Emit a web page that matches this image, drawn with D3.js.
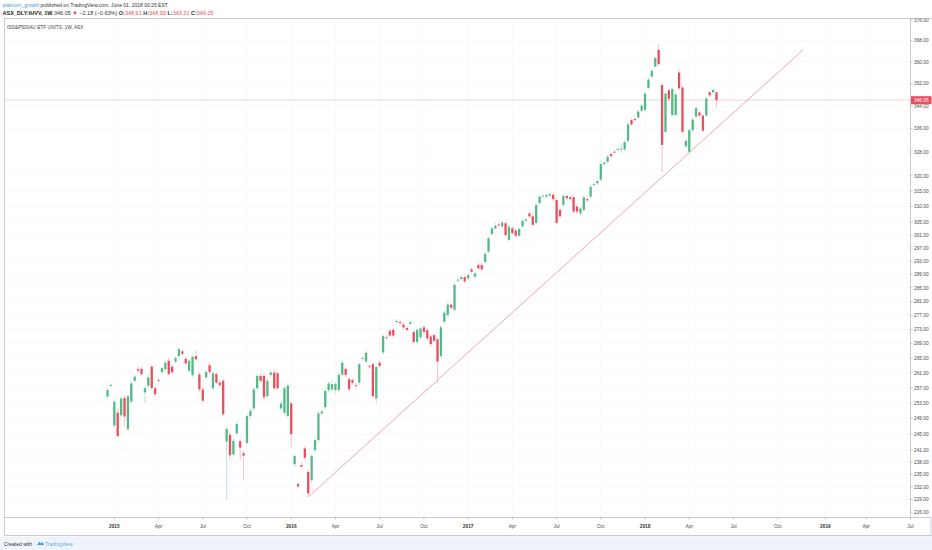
<!DOCTYPE html>
<html>

<head>
	<meta charset="utf-8">
	<script src="https://cdn.jsdelivr.net/npm/d3@7"></script>
	<style>
		body {
			margin: 0;
			background: #fff;
		}

		svg {
			display: block;
			font-family: "Liberation Sans", Arial, sans-serif;
		}

		.ylabel, .xlabel {
			font-size: 4.8px;
			fill: #4a4a4a;
		}

		.xlabel.year {
			font-weight: bold;
			fill: #333;
		}

		.frame {
			fill: none;
			stroke: #c9cbd1;
			stroke-width: 1;
		}
	</style>
</head>

<body>
	<svg></svg>
	<script>
		// weekly bars, first bar is the week of 22 Dec 2014
		var firstWeek = "2014-12-22";

		var opens = [
			254.7, 257.5, 247.2, 250.5, 249.8, 254.3, 246.3, 253.4, 258.9, 262.0,
			262.1, 255.8, 257.6, 262.7, 256.9, 259.1, 261.2, 262.0, 264.3, 262.7,
			264.1, 265.6, 266.9, 264.8, 261.6, 260.4, 265.6, 260.6, 256.6, 259.8,
			263.1, 256.9, 260.7, 258.4, 258.9, 243.1, 244.8, 239.9, 245.2, 243.2,
			240.2, 242.8, 249.6, 251.6, 256.9, 260.2, 260.2, 254.8, 260.5, 261.1,
			260.9, 251.6, 250.5, 249.7, 252.9, 237.5, 232.7, 237.3, 241.4, 235.6,
			233.6, 241.0, 243.5, 250.3, 251.9, 256.4, 256.6, 256.4, 256.4, 260.5,
			262.1, 259.3, 259.1, 257.7, 258.4, 264.8, 264.1, 262.8, 263.4, 254.2,
			263.8, 266.6, 270.8, 272.6, 272.9, 275.1, 275.1, 274.4, 273.4, 274.6,
			272.3, 269.5, 270.8, 273.6, 272.8, 271.0, 271.4, 270.2, 265.6, 275.2,
			277.1, 280.1, 278.6, 287.2, 287.6, 288.2, 287.8, 290.5, 288.3, 291.8,
			291.8, 292.8, 295.9, 301.3, 303.1, 304.3, 303.7, 304.7, 299.5, 303.1,
			302.4, 300.8, 303.7, 305.5, 307.8, 306.9, 304.8, 311.1, 313.3, 313.2,
			313.5, 313.8, 312.1, 308.9, 310.5, 313.4, 313.0, 313.0, 310.0, 307.8,
			308.9, 312.4, 313.2, 317.2, 317.6, 318.8, 323.9, 324.7, 327.3, 328.1,
			328.8, 329.0, 328.9, 331.8, 339.0, 339.4, 339.9, 342.3, 342.6, 350.5,
			354.6, 358.3, 364.5, 351.5, 334.9, 349.6, 340.8, 340.8, 356.1, 350.6,
			329.9, 328.1, 335.5, 340.2, 341.7, 340.6, 340.6, 348.9, 348.9, 348.91
		];
		var highs = [
			257.0, 258.2, 254.0, 251.5, 254.8, 255.0, 255.3, 258.8, 260.6, 262.6,
			262.8, 257.5, 260.5, 263.4, 257.4, 259.6, 262.9, 264.4, 265.0, 263.3,
			265.6, 268.1, 267.5, 265.4, 264.9, 266.0, 267.3, 261.2, 257.1, 261.9,
			263.7, 261.5, 261.3, 258.9, 259.4, 247.0, 245.5, 243.9, 248.2, 243.8,
			240.7, 250.2, 251.6, 257.2, 260.8, 260.8, 260.9, 259.5, 261.7, 261.7,
			261.5, 253.5, 257.5, 258.2, 253.5, 240.1, 233.2, 237.9, 242.0, 236.2,
			240.1, 244.1, 250.9, 251.4, 256.8, 258.8, 259.0, 258.6, 261.1, 264.4,
			262.7, 259.9, 259.6, 258.2, 264.0, 265.5, 267.1, 263.3, 264.0, 263.2,
			264.4, 271.7, 271.4, 273.2, 273.5, 276.0, 275.8, 275.0, 274.0, 275.7,
			272.9, 273.5, 273.9, 274.2, 273.4, 271.6, 272.0, 270.8, 274.2, 278.4,
			280.7, 280.7, 286.5, 288.0, 288.9, 288.8, 289.4, 291.1, 289.9, 292.4,
			292.4, 295.8, 300.6, 303.7, 304.9, 305.0, 305.5, 305.3, 304.2, 303.7,
			303.0, 303.5, 306.1, 306.5, 308.4, 307.5, 311.1, 313.8, 314.1, 314.3,
			314.6, 314.4, 312.7, 309.5, 314.0, 314.0, 313.6, 313.6, 310.6, 310.0,
			313.6, 313.0, 317.0, 317.9, 318.9, 324.5, 325.0, 327.0, 327.9, 328.7,
			329.6, 331.0, 332.0, 338.1, 339.6, 340.0, 342.6, 344.7, 349.0, 354.1,
			357.3, 362.1, 366.7, 352.3, 349.0, 350.2, 350.7, 348.7, 357.5, 351.2,
			332.4, 336.1, 339.8, 343.8, 342.3, 341.2, 347.3, 349.5, 350.3, 348.93
		];
		var lows = [
			254.2, 257.3, 246.5, 244.0, 249.0, 247.0, 245.8, 252.8, 258.4, 261.0,
			260.2, 253.0, 257.0, 256.4, 254.6, 258.5, 260.7, 261.4, 260.2, 260.6,
			263.5, 265.0, 265.7, 263.0, 261.0, 259.8, 264.2, 256.0, 253.0, 259.2,
			260.7, 256.3, 257.9, 257.2, 249.5, 228.9, 238.5, 239.3, 244.6, 238.5,
			233.6, 242.2, 249.0, 251.0, 256.3, 258.4, 253.9, 254.2, 259.9, 256.3,
			256.3, 251.0, 249.9, 249.1, 241.8, 236.9, 231.5, 236.3, 238.5, 229.6,
			233.0, 240.4, 243.0, 249.7, 251.3, 255.8, 256.0, 255.6, 255.8, 259.9,
			259.9, 256.0, 257.9, 257.0, 257.8, 264.3, 263.5, 262.1, 254.2, 252.9,
			262.3, 266.0, 270.1, 270.7, 270.7, 274.6, 274.2, 273.0, 272.4, 274.0,
			268.9, 268.9, 270.2, 271.7, 269.9, 268.3, 269.2, 258.2, 265.0, 274.6,
			276.5, 278.6, 278.0, 286.6, 287.0, 286.3, 287.2, 289.2, 287.7, 290.2,
			289.9, 292.2, 295.3, 300.7, 302.5, 303.4, 303.1, 300.4, 298.9, 301.0,
			300.2, 300.2, 303.1, 304.9, 306.3, 303.6, 304.2, 310.5, 312.8, 312.6,
			312.9, 311.8, 304.2, 306.3, 309.9, 312.1, 311.8, 307.8, 307.8, 307.2,
			308.3, 311.4, 312.6, 316.6, 317.0, 318.2, 323.3, 324.1, 326.0, 327.4,
			328.2, 327.6, 328.3, 331.2, 336.9, 338.4, 339.3, 341.7, 342.0, 349.9,
			354.0, 357.7, 358.6, 321.2, 334.3, 345.9, 340.2, 340.2, 349.7, 334.3,
			329.3, 327.3, 334.9, 339.6, 340.0, 334.7, 340.0, 347.2, 348.3, 343.31
		];
		var closes = [
			256.4, 257.8, 253.3, 244.5, 254.2, 249.5, 254.8, 258.2, 260.0, 261.6,
			260.7, 256.9, 259.8, 257.0, 255.3, 258.9, 262.3, 263.8, 260.7, 261.2,
			265.0, 267.5, 266.2, 263.6, 264.3, 265.4, 264.7, 256.6, 253.6, 261.3,
			261.3, 260.9, 258.4, 257.7, 250.1, 246.3, 239.7, 243.3, 247.6, 241.6,
			239.6, 249.6, 251.0, 256.6, 260.2, 258.9, 254.5, 258.9, 261.1, 256.9,
			256.9, 252.9, 256.9, 257.6, 245.0, 239.5, 232.1, 236.9, 239.1, 230.4,
			239.5, 243.5, 250.3, 250.8, 256.2, 258.2, 258.0, 258.0, 260.5, 263.8,
			260.5, 256.6, 258.4, 257.5, 263.4, 265.0, 266.5, 262.6, 254.8, 262.6,
			262.9, 271.1, 270.7, 271.3, 271.3, 275.4, 274.8, 273.6, 272.9, 275.1,
			269.5, 272.9, 273.3, 272.3, 270.5, 268.9, 269.8, 264.1, 273.6, 277.8,
			280.1, 279.2, 285.9, 287.4, 288.2, 286.9, 288.8, 289.8, 289.3, 290.8,
			290.5, 295.2, 300.0, 303.1, 303.9, 304.0, 304.9, 301.0, 303.6, 301.6,
			300.8, 302.9, 305.5, 305.9, 306.9, 304.2, 310.5, 313.2, 313.5, 313.7,
			314.0, 312.4, 304.8, 306.9, 313.4, 312.7, 312.4, 308.4, 308.4, 309.4,
			313.0, 312.0, 316.4, 317.3, 318.3, 323.9, 324.4, 326.4, 326.6, 328.0,
			329.0, 329.1, 331.4, 337.5, 337.5, 339.0, 342.0, 344.1, 348.4, 353.5,
			356.7, 361.5, 359.2, 330.4, 348.4, 346.5, 350.1, 348.1, 350.3, 334.9,
			331.8, 335.5, 339.2, 343.2, 340.6, 335.3, 346.7, 347.8, 349.7, 346.05
		];

		var priceTicks = [376, 368, 360, 352, 344, 336, 328, 320, 315, 310, 305, 301, 297, 293,
			289, 285, 281, 277, 273, 269, 265, 261, 257, 253, 249, 245, 241, 238, 235, 232, 229, 226];

		var timeTicks = [
			["2015-01-05", "2015"], ["2015-04-06", "Apr"], ["2015-07-06", "Jul"], ["2015-10-05", "Oct"],
			["2016-01-04", "2016"], ["2016-04-04", "Apr"], ["2016-07-04", "Jul"], ["2016-10-03", "Oct"],
			["2017-01-02", "2017"], ["2017-04-03", "Apr"], ["2017-07-03", "Jul"], ["2017-10-02", "Oct"],
			["2018-01-01", "2018"], ["2018-04-02", "Apr"], ["2018-07-02", "Jul"], ["2018-10-01", "Oct"],
			["2019-01-07", "2019"], ["2019-04-01", "Apr"], ["2019-07-01", "Jul"]
		];

		var trendLine = [["2016-02-08", 229.6], ["2018-11-23", 364.7]];
		var lastPrice = 346.05;

		var width = 932;
		var height = 550;
		var pane = { "left": 4.5, "right": 910.5, "top": 18.5, "bottom": 517.5 };
		var axisBottom = 535.5;
		var upColor = "#53b987", downColor = "#eb4d5c";

		var parse = d3.utcParse("%Y-%m-%d");
		var start = parse(firstWeek);
		var weeks = d3.utcMonday.range(start, d3.utcDay.offset(start, opens.length * 7));

		var bars = weeks.map(function (d, i) {
			return { date: d, o: opens[i], h: highs[i], l: lows[i], c: closes[i] };
		});

		var x = d3.scaleUtc()
			.domain([weeks[0], weeks[weeks.length - 1]])
			.range([107.5, 716.5]);
		var y = d3.scaleLog()
			.domain([224.76, 376.55])
			.range([pane.bottom, pane.top]);

		var svg = d3.select("svg")
			.attr("width", width)
			.attr("height", height);

		svg.append("rect")
			.attr("width", width).attr("height", height).attr("fill", "#fff");
		svg.append("rect")
			.attr("y", axisBottom + 1).attr("width", width).attr("height", height - axisBottom)
			.attr("fill", "#f0f3fa");

		svg.append("clipPath").attr("id", "paneClip")
			.append("rect")
			.attr("x", pane.left).attr("y", pane.top)
			.attr("width", pane.right - pane.left).attr("height", pane.bottom - pane.top);

		// grid, barely there
		var grid = svg.append("g").attr("clip-path", "url(#paneClip)");
		grid.selectAll(".vgrid")
			.data(timeTicks)
			.enter()
			.append("line")
			.attr("x1", d => x(parse(d[0]))).attr("x2", d => x(parse(d[0])))
			.attr("y1", pane.top).attr("y2", pane.bottom)
			.attr("stroke", "#f8f9fb");
		grid.selectAll(".hgrid")
			.data(priceTicks)
			.enter()
			.append("line")
			.attr("x1", pane.left).attr("x2", pane.right)
			.attr("y1", d => y(d)).attr("y2", d => y(d))
			.attr("stroke", "#f8f9fb");

		var plot = svg.append("g").attr("clip-path", "url(#paneClip)");

		// last price line
		plot.append("line")
			.attr("x1", pane.left).attr("x2", pane.right)
			.attr("y1", y(lastPrice)).attr("y2", y(lastPrice))
			.attr("stroke", "#f5c4c9").attr("stroke-width", 0.7);

		// trend line
		plot.append("path")
			.attr("d", d3.line().x(d => x(parse(d[0]))).y(d => y(d[1]))(trendLine))
			.attr("stroke", "#f59aa5").attr("stroke-width", 0.9).attr("fill", "none");

		var candle = plot.selectAll(".candle")
			.data(bars)
			.enter()
			.append("g")
			.attr("class", "candle");

		candle.append("line")
			.attr("x1", d => x(d.date)).attr("x2", d => x(d.date))
			.attr("y1", d => y(d.h)).attr("y2", d => y(d.l))
			.attr("stroke", d => d.c >= d.o ? "#a8dcc2" : "#f5a9b1")
			.attr("stroke-width", 0.7);

		candle.append("rect")
			.attr("x", d => x(d.date) - 1.15)
			.attr("width", 2.3)
			.attr("y", d => y(Math.max(d.o, d.c)))
			.attr("height", d => Math.max(0.8, y(Math.min(d.o, d.c)) - y(Math.max(d.o, d.c))))
			.attr("fill", d => d.c >= d.o ? upColor : downColor);

		// frames
		svg.append("rect").attr("class", "frame")
			.attr("x", pane.left).attr("y", pane.top)
			.attr("width", pane.right - pane.left).attr("height", pane.bottom - pane.top);
		svg.append("rect").attr("class", "frame")
			.attr("x", pane.left).attr("y", pane.bottom)
			.attr("width", width - 1 - pane.left).attr("height", axisBottom - pane.bottom);
		svg.append("line").attr("class", "frame")
			.attr("x1", pane.right).attr("x2", width - 0.5)
			.attr("y1", pane.top).attr("y2", pane.top);

		// price axis
		var yAxis = svg.append("g");
		svg.append("clipPath").attr("id", "yClip")
			.append("rect").attr("x", pane.right).attr("y", pane.top)
			.attr("width", width - pane.right).attr("height", pane.bottom - pane.top);
		var yTick = yAxis.attr("clip-path", "url(#yClip)")
			.selectAll(".ytick")
			.data(priceTicks)
			.enter()
			.append("g")
			.attr("transform", d => "translate(" + pane.right + "," + y(d) + ")");
		yTick.append("line").attr("x2", 2.2).attr("stroke", "#9a9ca3").attr("stroke-width", 0.6);
		yTick.append("text")
			.attr("class", "ylabel")
			.attr("x", 3.5)
			.attr("dy", "0.35em")
			.text(d => d3.format(".2f")(d));

		var tag = svg.append("g")
			.attr("transform", "translate(" + pane.right + "," + y(lastPrice) + ")");
		tag.append("rect")
			.attr("x", 0.5).attr("y", -4).attr("width", 20.5).attr("height", 8)
			.attr("fill", downColor);
		tag.append("text")
			.attr("class", "ylabel")
			.attr("x", 3.5).attr("dy", "0.35em")
			.style("fill", "#fff")
			.text(d3.format(".2f")(lastPrice));

		// time axis
		var xTick = svg.append("g")
			.selectAll(".xtick")
			.data(timeTicks.filter(d => x(parse(d[0])) < pane.right))
			.enter()
			.append("g")
			.attr("transform", d => "translate(" + x(parse(d[0])) + "," + pane.bottom + ")");
		xTick.append("line").attr("y2", 2).attr("stroke", "#9a9ca3").attr("stroke-width", 0.6);
		xTick.append("text")
			.attr("class", d => /^\d/.test(d[1]) ? "xlabel year" : "xlabel")
			.attr("y", 10)
			.attr("text-anchor", "middle")
			.text(d => d[1]);

		// header
		var head1 = svg.append("text")
			.attr("x", 2.5).attr("y", 7.2)
			.style("font-size", "5px").attr("fill", "#333");
		head1.append("tspan").attr("fill", "#3a9be0").text("platinum_growth");
		head1.append("tspan").text(" published on TradingView.com, June 01, 2018 00:25 EST");

		var head2 = svg.append("text")
			.attr("x", 2.5).attr("y", 15)
			.style("font-size", "5.5px").attr("fill", "#333");
		head2.append("tspan").attr("font-weight", "bold").attr("fill", "#222").text("ASX_DLY:IHVV, 1W");
		head2.append("tspan").text(" 346.05 ");
		head2.append("tspan").attr("fill", "#d32f3c").text("▼");
		head2.append("tspan").text(" −2.18 (−0.63%) ");
		[["O:", "348.91"], ["H:", "348.93"], ["L:", "343.31"], ["C:", "346.05"]].forEach(function (p) {
			head2.append("tspan").attr("font-weight", "bold").text(" " + p[0]);
			head2.append("tspan").attr("fill", downColor).text(p[1]);
		});

		svg.append("text")
			.attr("x", 7).attr("y", 28.5)
			.style("font-size", "4.8px").attr("fill", "#444")
			.text("ISS&P500AU ETF UNITS, 1W, ASX");

		// footer
		svg.append("text")
			.attr("x", 4).attr("y", 545.5)
			.style("font-size", "5px").attr("fill", "#333")
			.text("Created with");
		var logo = svg.append("g").attr("transform", "translate(37,541)");
		logo.append("path")
			.attr("d", "M0,4 L2.5,0.5 L4,2.5 L5.5,0.8 L7,4 Z")
			.attr("fill", "#3aa6e8");
		svg.append("text")
			.attr("x", 45).attr("y", 545.5)
			.style("font-size", "5px").attr("fill", "#5aaee6")
			.text("TradingView");
	</script>
</body>

</html>
